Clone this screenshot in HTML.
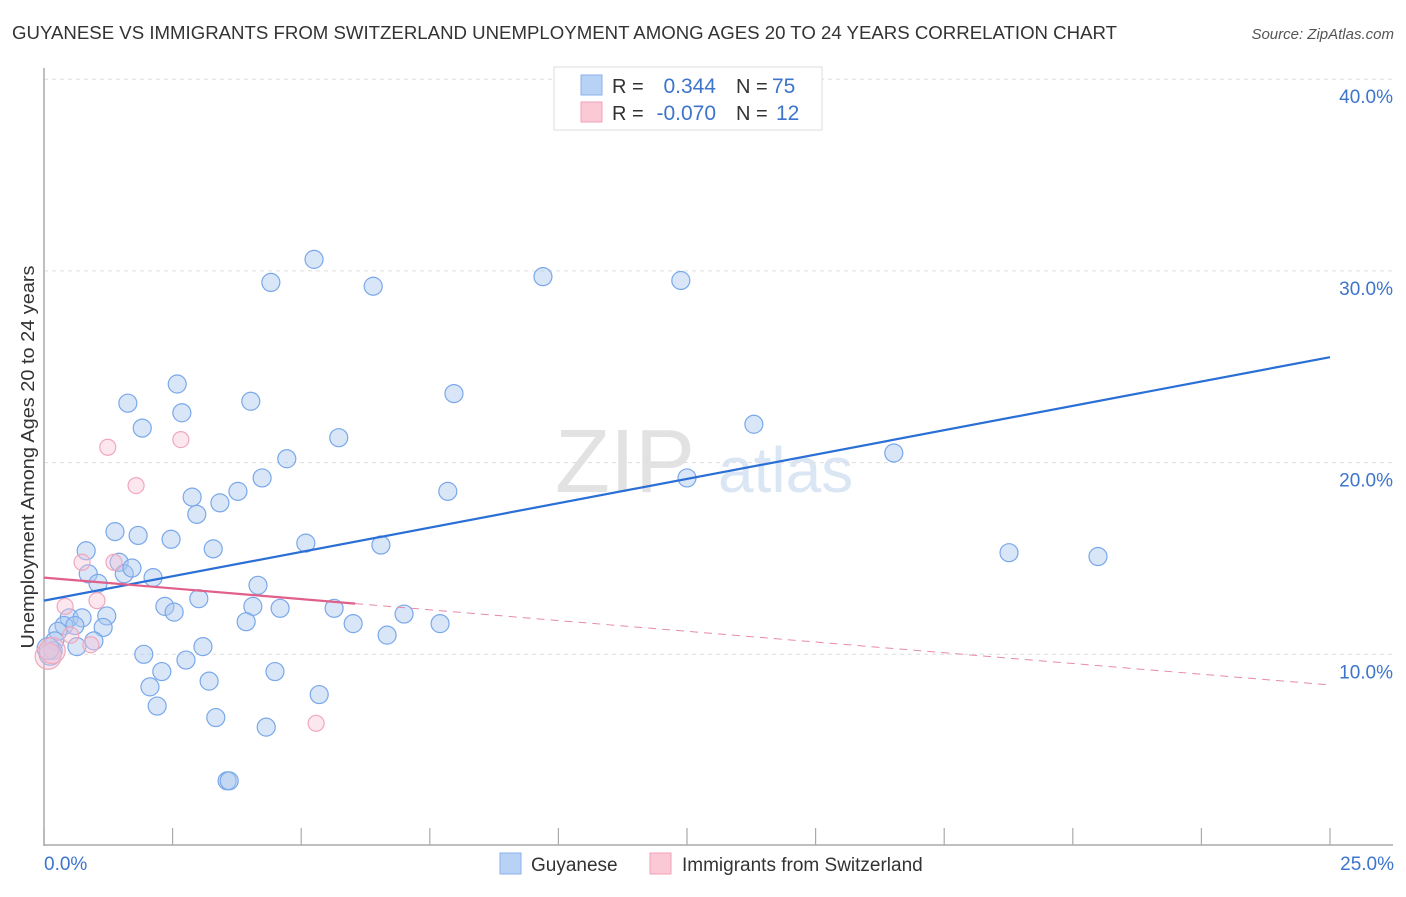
<!DOCTYPE html>
<html><head><meta charset="utf-8"><style>
body{margin:0;background:#fff;font-family:"Liberation Sans",sans-serif;}
svg text{font-family:"Liberation Sans",sans-serif;}
</style></head><body>
<svg id="chart" width="1406" height="892" xmlns="http://www.w3.org/2000/svg">
<text x="12" y="39" font-size="18" fill="#333" textLength="1105" lengthAdjust="spacingAndGlyphs">GUYANESE VS IMMIGRANTS FROM SWITZERLAND UNEMPLOYMENT AMONG AGES 20 TO 24 YEARS CORRELATION CHART</text>
<text x="1394" y="39" font-size="15" fill="#555" text-anchor="end" font-style="italic">Source: ZipAtlas.com</text>
<text x="555" y="492" font-size="90" fill="#e2e2e2" font-family="Liberation Serif">ZIP</text>
<text x="718" y="492" font-size="64" fill="#dbe6f4">atlas</text>
<g id="grid"></g>
<line x1="44" y1="68" x2="44" y2="846" stroke="#aaa" stroke-width="1.5"/>
<line x1="44" y1="845" x2="1393" y2="845" stroke="#aaa" stroke-width="1.5"/>
<text transform="translate(34,457) rotate(-90)" font-size="18" fill="#333" text-anchor="middle" textLength="383" lengthAdjust="spacingAndGlyphs">Unemployment Among Ages 20 to 24 years</text>
<text x="44" y="870" font-size="19" fill="#3d74cc">0.0%</text>
<text x="1394" y="870" font-size="19" fill="#3d74cc" text-anchor="end">25.0%</text>
<g id="marks"></g>
<g>
<rect x="554" y="67" width="268" height="63" fill="#fff" stroke="#ddd"/>
<rect x="581" y="75" width="21" height="20" fill="#b8d2f5" stroke="#8ab2ea"/>
<rect x="581" y="102" width="21" height="20" fill="#fbc8d6" stroke="#f0a0b8"/>
<text x="612" y="93" font-size="20" fill="#333">R = </text><text x="716" y="93" font-size="21" fill="#3d74cc" text-anchor="end">0.344</text>
<text x="736" y="93" font-size="20" fill="#333">N = </text><text x="772" y="93" font-size="21" fill="#3d74cc">75</text>
<text x="612" y="120" font-size="20" fill="#333">R = </text><text x="716" y="120" font-size="21" fill="#3d74cc" text-anchor="end">-0.070</text>
<text x="736" y="120" font-size="20" fill="#333">N = </text><text x="776" y="120" font-size="21" fill="#3d74cc">12</text>
</g>
<g>
<rect x="500" y="853" width="21" height="21" fill="#b8d2f5" stroke="#8ab2ea"/>
<text x="531" y="871" font-size="19" fill="#333">Guyanese</text>
<rect x="650" y="853" width="21" height="21" fill="#fbc8d6" stroke="#f0a0b8"/>
<text x="682" y="871" font-size="19" fill="#333">Immigrants from Switzerland</text>
</g>
</svg>
<script>
const yTicks=[10,20,30,40];
const yTickLabels=["10.0%","20.0%","30.0%","40.0%"];
const xTicks=[0,2.5,5,7.5,10,12.5,15,17.5,20,22.5,25];
const blueX=[5.25,4.41,6.40,9.70,12.38,2.59,1.63,4.02,2.68,7.97,1.91,5.73,13.80,4.72,16.52,4.24,12.50,3.77,7.85,2.88,3.42,2.97,1.38,1.83,2.47,3.29,5.09,6.55,0.82,18.76,20.49,0.86,1.05,1.46,1.56,1.71,2.12,4.16,3.01,2.35,2.53,4.06,4.59,5.64,7.0,1.22,0.49,0.74,3.93,6.01,7.70,0.39,0.60,1.15,0.27,6.67,0.97,0.64,0.21,0.18,1.94,3.09,2.76,2.29,4.49,3.21,2.06,5.35,2.20,3.34,4.32,3.56,3.60,0.12,0.08];
const blueY=[30.6,29.4,29.2,29.7,29.5,24.1,23.1,23.2,22.6,23.6,21.8,21.3,22.0,20.2,20.5,19.2,19.2,18.5,18.5,18.2,17.9,17.3,16.4,16.2,16.0,15.5,15.8,15.7,15.4,15.3,15.1,14.2,13.7,14.8,14.2,14.5,14.0,13.6,12.9,12.5,12.2,12.5,12.4,12.4,12.1,12.0,11.9,11.9,11.7,11.6,11.6,11.5,11.5,11.4,11.2,11.0,10.7,10.4,10.7,10.2,10.0,10.4,9.7,9.1,9.1,8.6,8.3,7.9,7.3,6.7,6.2,3.4,3.4,10.0,10.3];
const pinkX=[1.24,2.66,1.79,0.74,1.36,0.41,1.03,0.52,0.91,5.29,0.08,0.16];
const pinkY=[20.8,21.2,18.8,14.8,14.8,12.5,12.8,11.0,10.5,6.4,9.9,10.2];
const blueTrend=[12.8,25.5];
const pinkTrend=[14.0,8.4];
const pinkSolidEnd=6.05;
const X=v=>44+v/25*1286, Y=v=>846-v*19.17;
const NS="http://www.w3.org/2000/svg";
const grid=document.getElementById('grid'), marks=document.getElementById('marks'), svg=document.getElementById('chart');
function mk(tag,attrs,parent){const e=document.createElementNS(NS,tag);for(const k in attrs)e.setAttribute(k,attrs[k]);parent.appendChild(e);return e;}
yTicks.forEach((t,i)=>{
  const l=mk('line',{x1:44,x2:1393,y1:Y(t),y2:Y(t),stroke:'#ddd','stroke-dasharray':'4,4'},grid);
  
  
  const tx=mk('text',{x:1393,y:Y(t)+24,'font-size':19,fill:'#3d74cc','text-anchor':'end'},grid);
  tx.textContent=yTickLabels[i];
  
  
});
xTicks.forEach(t=>{
  const l=mk('line',{x1:X(t),x2:X(t),y1:828,y2:845,stroke:'#aaa','stroke-width':1.2},grid);
  
  
});
blueX.forEach((x,i)=>{
  const big=(i>=blueX.length-2);
  const c=mk('circle',{cx:X(x),cy:Y(blueY[i]),r:big?11:9,fill:'rgba(170,200,240,0.45)',stroke:'#79a8ea','stroke-width':1.2},marks);
  
  
});
pinkX.forEach((x,i)=>{
  const big=(i>=pinkX.length-2);
  const c=mk('circle',{cx:X(x),cy:Y(pinkY[i]),r:big?13:8,fill:'rgba(250,195,212,0.4)',stroke:'#f0a8bc','stroke-width':1.2},marks);
  
  
});
const bl=mk('line',{x1:X(0),y1:Y(blueTrend[0]),x2:X(25),y2:Y(blueTrend[1]),stroke:'#2a6fd6','stroke-width':2.2},svg);


const pAt=x=>pinkTrend[0]+(pinkTrend[1]-pinkTrend[0])*x/25;
const ps=mk('line',{x1:X(0),y1:Y(pAt(0)),x2:X(pinkSolidEnd),y2:Y(pAt(pinkSolidEnd)),stroke:'#e0608a','stroke-width':2.2},svg);


const pd=mk('line',{x1:X(pinkSolidEnd),y1:Y(pAt(pinkSolidEnd)),x2:X(25),y2:Y(pAt(25)),stroke:'#e88aa8','stroke-width':1,'stroke-dasharray':'8,6'},svg);


</script>
</body></html>
